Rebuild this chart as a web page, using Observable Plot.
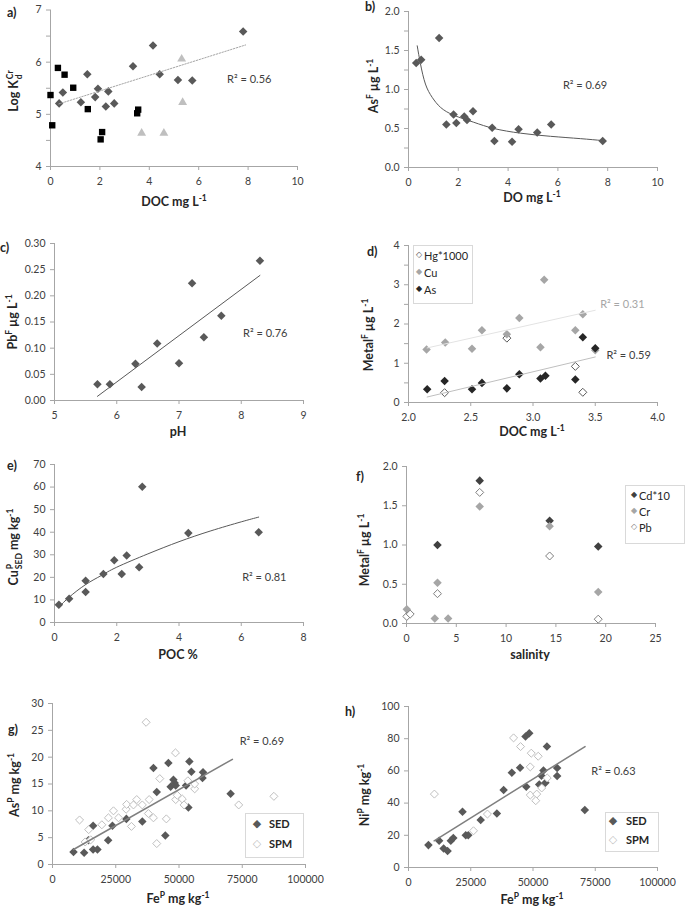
<!DOCTYPE html>
<html><head><meta charset="utf-8">
<script src="https://cdn.jsdelivr.net/npm/d3@7"></script>
<script src="https://cdn.jsdelivr.net/npm/@observablehq/plot@0.6"></script>
<style>
body{margin:0;background:#fff;}
#fig{position:relative;width:685px;height:909px;font-family:Lato,"Open Sans",sans-serif;color:#262626;overflow:hidden;background:#fff}
#fig svg{position:absolute;overflow:visible}
.t{position:absolute;font-weight:bold;font-size:12.5px;white-space:nowrap;line-height:1}
.y{transform:translate(-50%,-50%) rotate(-90deg)}
.x{transform:translate(-50%,-50%)}
.pl{position:absolute;font-weight:bold;font-size:12.5px;line-height:1;transform:translateY(-50%)}
sup,sub{font-size:68%;line-height:0}
.ss{display:inline-block;vertical-align:middle;font-size:68%;line-height:1.05;text-align:left;margin-left:1px}
.ss span{display:block}
.box{position:absolute;border:1px solid #d9d9d9;background:#fff}
.li{position:absolute;line-height:1;transform:translateY(-50%);white-space:nowrap;font-size:11px;color:#262626}
</style></head>
<body><div id="fig"></div>
<script>
// ---------- data ----------
// a) Log Kd Cr vs DOC
const aSqX = [0, 0.07, 0.3, 0.57, 0.92, 1.51, 2.03, 2.09, 3.51, 3.55];
const aSqY = [5.37, 4.79, 5.89, 5.76, 5.51, 5.10, 4.52, 4.66, 5.02, 5.09];
const aDiX = [0.35, 0.5, 1.23, 1.49, 1.81, 1.92, 2.24, 2.34, 2.58, 3.34, 4.15, 4.42, 5.16, 5.74, 7.8];
const aDiY = [5.21, 5.42, 5.23, 5.77, 5.33, 5.49, 5.15, 5.44, 5.21, 5.92, 6.32, 5.77, 5.66, 5.65, 6.59];
const aTrX = [3.69, 4.59, 5.31, 5.35];
const aTrY = [4.64, 4.64, 6.06, 5.23];
const aFitX = [0.34, 7.9];
const aFitY = [5.20, 6.33];
// b) AsF vs DO
const bX = [0.31, 0.51, 1.23, 1.52, 1.81, 1.92, 2.24, 2.35, 2.59, 3.36, 3.45, 4.16, 4.42, 5.17, 5.73, 7.8];
const bY = [1.34, 1.38, 1.66, 0.55, 0.68, 0.57, 0.655, 0.61, 0.72, 0.51, 0.34, 0.33, 0.49, 0.45, 0.55, 0.34];
const bFitX = [0.35, 0.48, 0.68, 0.95, 1.29, 1.82, 2.62, 3.43, 4.5, 5.7, 6.9, 7.8];
const bFitY = [1.56, 1.33, 1.07, 0.90, 0.77, 0.67, 0.58, 0.50, 0.44, 0.40, 0.37, 0.345];
// c) PbF vs pH
const cX = [5.69, 5.89, 6.30, 6.40, 6.65, 7.0, 7.21, 7.40, 7.68, 8.30];
const cY = [0.031, 0.031, 0.070, 0.026, 0.109, 0.071, 0.224, 0.121, 0.162, 0.267];
const cFitX = [5.69, 8.30];
const cFitY = [0.008, 0.239];
// d) MetalF vs DOC
const dCuX = [2.145, 2.295, 2.51, 2.59, 2.79, 2.89, 3.06, 3.09, 3.34, 3.40, 3.50];
const dCuY = [1.35, 1.53, 1.37, 1.84, 1.74, 2.15, 1.41, 3.13, 1.84, 2.25, 1.33];
const dAsX = [2.15, 2.29, 2.51, 2.59, 2.79, 2.89, 3.06, 3.10, 3.34, 3.40, 3.50];
const dAsY = [0.34, 0.55, 0.34, 0.50, 0.36, 0.72, 0.61, 0.68, 0.585, 1.66, 1.38];
const dHgX = [2.29, 2.79, 3.34, 3.40];
const dHgY = [0.25, 1.64, 0.92, 0.26];
const dCuFitX = [2.15, 3.5], dCuFitY = [1.39, 2.35];
const dAsFitX = [2.15, 3.5], dAsFitY = [0.14, 1.16];
// e) CuP SED vs POC
const eX = [0.14, 0.47, 1.0, 1.0, 1.57, 1.92, 2.16, 2.32, 2.72, 2.82, 4.30, 6.56];
const eY = [7.9, 10.5, 18.5, 13.5, 21.5, 27.6, 21.5, 29.7, 24.5, 60.1, 39.6, 40.0];
const eFitX = [0.14, 0.47, 1, 1.5, 2, 3, 4, 5, 6, 6.56];
const eFitY = [6.8, 11.2, 16.8, 20.8, 24.5, 30.4, 35.8, 40.5, 44.6, 46.7];
// f) MetalF vs salinity
const fCdX = [3.11, 7.35, 14.37, 19.25];
const fCdY = [1.0, 1.82, 1.31, 0.98];
const fCrX = [0.03, 2.84, 3.11, 4.18, 7.35, 14.37, 19.25];
const fCrY = [0.18, 0.064, 0.52, 0.064, 1.49, 1.24, 0.40];
const fPbX = [0.03, 0.37, 3.11, 7.35, 14.37, 19.25];
const fPbY = [0.09, 0.12, 0.38, 1.67, 0.86, 0.055];
// g) AsP vs FeP
const gSedX = [8300, 12500, 14200, 16050, 16050, 17760, 22000, 23700, 29200, 35500, 39900, 41200, 44600, 45800, 46700, 47800, 48300, 48700, 52800, 53700, 54100, 54900, 59300, 59500, 70400];
const gSedY = [2.35, 2.2, 4.5, 7.2, 2.8, 2.8, 4.5, 7.2, 8.5, 8.0, 18.0, 13.5, 5.4, 18.9, 14.5, 15.8, 15.2, 14.7, 14.7, 10.6, 19.2, 17.3, 16.1, 17.2, 13.2];
const gSpmX = [10700, 12900, 14300, 15100, 19500, 22100, 24100, 26100, 29100, 29300, 31200, 32000, 33300, 35500, 37000, 37900, 38200, 39900, 41200, 42400, 45000, 48600, 48700, 49300, 51300, 52000, 53500, 56200, 56200, 73600, 87500];
const gSpmY = [8.3, 4.2, 6.5, 4.6, 7.4, 8.7, 10.0, 8.7, 10.3, 11.2, 7.1, 11.1, 12.1, 11.1, 26.5, 9.5, 12.1, 8.7, 3.9, 16.0, 8.5, 20.8, 12.1, 12.9, 12.2, 11.1, 15.6, 14.1, 15.0, 11.1, 12.7];
const gFitX = [8300, 71100], gFitY = [2.8, 19.6];
// h) NiP vs FeP
const hSedX = [8000, 12300, 14100, 15700, 17000, 18000, 21700, 23000, 24000, 29000, 35500, 38200, 41500, 44800, 47000, 48500, 47300, 52500, 53400, 54200, 55000, 55600, 59700, 59700, 70800];
const hSedY = [13.9, 16.6, 11.8, 10.2, 16.6, 18.3, 34.6, 20.1, 20.1, 29.5, 33.6, 48.1, 58.9, 62.0, 81.3, 83.4, 50.2, 51.5, 57.0, 60.2, 52.7, 75.1, 61.8, 56.8, 35.7];
const hSpmX = [10400, 26100, 31700, 42200, 45000, 48900, 48900, 49300, 51500, 51100, 52100, 53500, 55700];
const hSpmY = [45.6, 22.8, 33.2, 80.5, 75.1, 62.5, 45.0, 71.0, 45.6, 41.5, 69.1, 49.4, 55.6];
const hFitX = [10300, 70900], hFitY = [16.6, 75.1];
// tick labels
const aXT = [0, 2, 4, 6, 8, 10], aYT = [4, 5, 6, 7], aYM = [4, 4.5, 5, 5.5, 6, 6.5, 7];
const bXT = [0, 2, 4, 6, 8, 10], bYT = [0, 0.5, 1, 1.5, 2], bYM = [0, 0.25, 0.5, 0.75, 1, 1.25, 1.5, 1.75, 2];
const cXT = [5, 6, 7, 8, 9], cYT = [0, 0.05, 0.1, 0.15, 0.2, 0.25, 0.3];
const dXT = [2, 2.5, 3, 3.5, 4], dYT = [0, 1, 2, 3, 4], dYM = [0, 0.5, 1, 1.5, 2, 2.5, 3, 3.5, 4];
const eXT = [0, 2, 4, 6, 8], eYT = [0, 10, 20, 30, 40, 50, 60, 70];
const fXT = [0, 5, 10, 15, 20, 25], fYT = [0, 0.5, 1, 1.5, 2];
const gXT = [0, 25000, 50000, 75000, 100000], gYT = [0, 5, 10, 15, 20, 25, 30];
const hXT = [0, 25000, 50000, 75000, 100000], hYT = [0, 20, 40, 60, 80, 100];

// ---------- drawing ----------
const AX = "#a6a6a6", TXT = "#404040", FONT = "Lato, 'Open Sans', sans-serif";
const fig = document.getElementById("fig");
const P = (xs, ys) => xs.map((x, i) => ({x, y: ys[i]}));
const diamond = {draw(ctx, size) { const r = Math.sqrt(size / 2); ctx.moveTo(0, -r); ctx.lineTo(r, 0); ctx.lineTo(0, r); ctx.lineTo(-r, 0); ctx.closePath(); }};
const square = {draw(ctx, size) { const h = Math.sqrt(size) / 2; ctx.moveTo(-h, -h); ctx.lineTo(h, -h); ctx.lineTo(h, h); ctx.lineTo(-h, h); ctx.closePath(); }};
const triangle = {draw(ctx, size) { const s = Math.sqrt(size * 4 / Math.sqrt(3)); const h = s * Math.sqrt(3) / 2; ctx.moveTo(0, -2 * h / 3); ctx.lineTo(s / 2, h / 3); ctx.lineTo(-s / 2, h / 3); ctx.closePath(); }};
const dots = (xs, ys, fill, stroke, symbol = diamond, r = 3.4) =>
  Plot.dot(P(xs, ys), {x: "x", y: "y", symbol, r, fill, stroke: stroke || "none", strokeWidth: 1});
const line = (xs, ys, stroke, o = {}) => Plot.line(P(xs, ys), {x: "x", y: "y", stroke, strokeWidth: 1, ...o});
const r2 = (x, y, txt, color = TXT) => Plot.text([txt], {x: () => x, y: () => y, text: d => d, textAnchor: "start", fill: color, fontSize: 11});

function panel(p) {
  const L = p.right ? 340 : 0, W = p.right ? 345 : 340;
  const svg = Plot.plot({
    width: W, height: p.H,
    marginLeft: p.fx[0] - L, marginRight: L + W - p.fx[1],
    marginTop: p.fy[0] - p.T, marginBottom: p.T + p.H - p.fy[1],
    x: {domain: p.xd}, y: {domain: p.yd},
    style: {fontFamily: FONT, fontSize: "10.5px", background: "transparent"},
    marks: [
      Plot.ruleX([p.xd[0]], {stroke: AX}),
      Plot.ruleY([p.yd[0]], {stroke: AX}),
      Plot.axisY({ticks: p.yM || p.yt, tickSize: 4, tickFormat: () => "", color: AX, label: null}),
      Plot.axisY({ticks: p.yt, tickSize: 0, tickPadding: 9, tickFormat: p.yf, color: TXT, label: null}),
      Plot.axisX({ticks: p.xt, tickSize: 4, tickFormat: () => "", color: AX, label: null}),
      Plot.axisX({ticks: p.xt, tickSize: 0, tickPadding: 11, tickFormat: p.xf, color: TXT, label: null}),
      ...p.marks
    ]
  });
  svg.style.left = L + "px";
  svg.style.top = p.T + "px";
  fig.appendChild(svg);
}
const f0 = d => String(d), f1 = d3.format(".1f"), f2 = d3.format(".2f");

panel({T: 0, H: 215, fx: [50, 297], fy: [9.5, 166], xd: [0, 10], yd: [4, 7], xt: aXT, yt: aYT, yM: aYM, xf: f0, yf: f0, marks: [
  dots(aDiX, aDiY, "#595959"),
  dots(aSqX, aSqY, "#000000", null, square, 3.6),
  dots(aTrX, aTrY, "#bfbfbf", null, triangle, 3.3),
  line(aFitX, aFitY, "#a6a6a6", {strokeDasharray: "1.5,1.5"}),
  r2(7.15, 5.66, "R² = 0.56")
]});
panel({T: 0, H: 215, right: true, fx: [408, 657], fy: [11, 167], xd: [0, 10], yd: [0, 2], xt: bXT, yt: bYT, yM: bYM, xf: f0, yf: f1, marks: [
  dots(bX, bY, "#595959"),
  line(bFitX, bFitY, "#595959", {curve: "natural"}),
  r2(6.2, 1.05, "R² = 0.69")
]});
panel({T: 215, H: 225, fx: [54, 303], fy: [243, 400], xd: [5, 9], yd: [0, 0.3], xt: cXT, yt: cYT, xf: f0, yf: f2, marks: [
  dots(cX, cY, "#595959"),
  line(cFitX, cFitY, "#595959"),
  r2(8.03, 0.128, "R² = 0.76")
]});
panel({T: 215, H: 225, right: true, fx: [408, 657], fy: [245, 402], xd: [2, 4], yd: [0, 4], xt: dXT, yt: dYT, yM: dYM, xf: f1, yf: f0, marks: [
  dots(dHgX, dHgY, "white", "#595959", diamond, 3.2),
  dots(dCuX, dCuY, "#a6a6a6"),
  dots(dAsX, dAsY, "#262626"),
  line(dCuFitX, dCuFitY, "#e3e3e3"),
  line(dAsFitX, dAsFitY, "#bfbfbf"),
  r2(3.54, 2.49, "R² = 0.31", "#a6a6a6"),
  r2(3.59, 1.2, "R² = 0.59")
]});
panel({T: 440, H: 220, fx: [54, 303], fy: [464, 622], xd: [0, 8], yd: [0, 70], xt: eXT, yt: eYT, xf: f0, yf: f0, marks: [
  dots(eX, eY, "#595959"),
  line(eFitX, eFitY, "#595959", {curve: "natural"}),
  r2(6.03, 20, "R² = 0.81")
]});
panel({T: 440, H: 220, right: true, fx: [406, 655], fy: [466, 623], xd: [0, 25], yd: [0, 2], xt: fXT, yt: fYT, xf: f0, yf: f1, marks: [
  dots(fCdX, fCdY, "#404040"),
  dots(fCrX, fCrY, "#a6a6a6"),
  dots(fPbX, fPbY, "white", "#7f7f7f", diamond, 3.2)
]});
panel({T: 660, H: 249, fx: [52, 305], fy: [703, 864], xd: [0, 100000], yd: [0, 30], xt: gXT, yt: gYT, xf: f0, yf: f0, marks: [
  dots(gSedX, gSedY, "#595959"),
  dots(gSpmX, gSpmY, "white", "#bfbfbf", diamond, 3.2),
  line(gFitX, gFitY, "#7f7f7f", {strokeWidth: 1.5}),
  r2(74000, 22.9, "R² = 0.69")
]});
panel({T: 660, H: 249, right: true, fx: [408, 657], fy: [706, 867], xd: [0, 100000], yd: [0, 100], xt: hXT, yt: hYT, xf: f0, yf: f0, marks: [
  dots(hSedX, hSedY, "#595959"),
  dots(hSpmX, hSpmY, "white", "#bfbfbf", diamond, 3.2),
  line(hFitX, hFitY, "#7f7f7f", {strokeWidth: 1.5}),
  r2(73400, 59.8, "R² = 0.63")
]});

// ---------- text overlays ----------
function add(cls, x, y, html, extra = "") {
  const el = document.createElement("div");
  el.className = cls;
  el.style.left = x + "px"; el.style.top = y + "px";
  if (extra) el.style.cssText += extra;
  el.innerHTML = html;
  fig.appendChild(el);
  return el;
}
// axis titles
add("t y", 15, 91, 'Log K<span class="ss"><span>Cr</span><span>d</span></span>');
add("t x", 174, 202, 'DOC mg L<sup>-1</sup>');
add("t y", 374, 86, 'As<sup>F</sup> µg L<sup>-1</sup>');
add("t x", 532, 198, 'DO mg L<sup>-1</sup>');
add("t y", 13, 322, 'Pb<sup>F</sup> µg L<sup>-1</sup>');
add("t x", 178, 432, 'pH');
add("t y", 369, 335, 'Metal<sup>F</sup> µg L<sup>-1</sup>');
add("t x", 532, 432, 'DOC mg L<sup>-1</sup>');
add("t y", 15, 547, 'Cu<span class="ss"><span>P</span><span>SED</span></span> mg kg<sup>-1</sup>');
add("t x", 178, 655, 'POC %');
add("t y", 365, 550, 'Metal<sup>F</sup> µg L<sup>-1</sup>');
add("t x", 530, 655, 'salinity');
add("t y", 15, 785, 'As<sup>P</sup> mg kg<sup>-1</sup>');
add("t x", 178, 899, 'Fe<sup>P</sup> mg kg<sup>-1</sup>');
add("t y", 365, 795, 'Ni<sup>P</sup> mg kg<sup>-1</sup>');
add("t x", 532, 900, 'Fe<sup>P</sup> mg kg<sup>-1</sup>');
// panel letters
[["a)", 7, 13], ["b)", 365, 7], ["c)", 0, 248], ["d)", 367, 252], ["e)", 7, 466], ["f)", 356, 477], ["g)", 8, 730], ["h)", 345, 712]]
  .forEach(([t, x, y]) => add("pl", x, y, t));

// legends
function legend(box, items) {
  add("box", box[0], box[1], "", `width:${box[2]}px;height:${box[3]}px;`);
  items.forEach(it => {
    add("li", it.sx, it.y, it.sym, `color:${it.c};font-size:${it.ss}px;font-family:'DejaVu Sans';transform:translate(-50%,-50%);`);
    add("li", it.tx, it.y, it.t, it.b ? "font-weight:bold;" : "");
  });
}
legend([413, 245, 58, 57], [
  {sym: "◇", c: "#595959", ss: 8, sx: 419, tx: 424, y: 255, t: "Hg*1000"},
  {sym: "◆", c: "#a6a6a6", ss: 8, sx: 419, tx: 424, y: 272, t: "Cu"},
  {sym: "◆", c: "#262626", ss: 8, sx: 419, tx: 424, y: 289, t: "As"}
]);
legend([625, 485, 58, 57], [
  {sym: "◆", c: "#404040", ss: 8, sx: 634, tx: 639, y: 495, t: "Cd*10"},
  {sym: "◆", c: "#a6a6a6", ss: 8, sx: 634, tx: 639, y: 511, t: "Cr"},
  {sym: "◇", c: "#7f7f7f", ss: 8, sx: 634, tx: 639, y: 527, t: "Pb"}
]);
legend([245, 813, 57, 43], [
  {sym: "◆", c: "#595959", ss: 11, sx: 257, tx: 269, y: 823, t: "SED", b: true},
  {sym: "◇", c: "#bfbfbf", ss: 11, sx: 257, tx: 269, y: 843, t: "SPM", b: true}
]);
legend([605, 812, 52, 38], [
  {sym: "◆", c: "#595959", ss: 11, sx: 613, tx: 626, y: 820, t: "SED", b: true},
  {sym: "◇", c: "#bfbfbf", ss: 11, sx: 613, tx: 626, y: 839, t: "SPM", b: true}
]);
</script>
</body></html>
